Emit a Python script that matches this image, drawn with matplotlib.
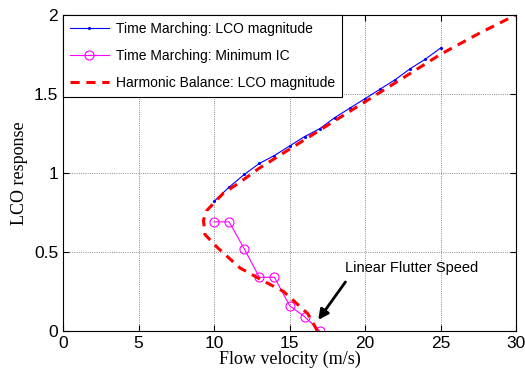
import numpy as np
import matplotlib
matplotlib.use("Agg")
import matplotlib.pyplot as plt

# Time marching: LCO magnitude
tm_v = [10, 11, 12, 13, 14, 15, 16, 17, 18, 19, 20, 21, 22, 23, 24, 25]
tm_lco = [0.82, 0.91, 0.99, 1.06, 1.11, 1.17, 1.23, 1.28, 1.35, 1.41, 1.47, 1.53, 1.59, 1.66, 1.72, 1.79]

# Time marching: minimum initial condition
ic_v = [10, 11, 12, 13, 14, 15, 16, 17]
ic_amp = [0.69, 0.69, 0.52, 0.34, 0.34, 0.16, 0.09, 0.0]

# Harmonic balance: LCO magnitude (unstable lower branch + stable upper branch)
hb_v = [16.85, 16.2, 15.4, 14.6, 13.2, 11.7, 10.2, 9.4, 9.3, 9.5, 9.9, 10.6, 11.7, 13.0, 15.0, 17.5, 20.0, 22.5, 25.0, 27.5, 30.0]
hb_lco = [0.0, 0.11, 0.18, 0.25, 0.32, 0.40, 0.53, 0.61, 0.70, 0.76, 0.80, 0.87, 0.94, 1.03, 1.15, 1.30, 1.45, 1.60, 1.75, 1.88, 2.0]

plt.rcParams['font.family'] = ['Liberation Sans', 'DejaVu Sans']

fig = plt.figure(figsize=(5.25, 3.8), dpi=100)
ax = fig.add_axes([0.12, 0.129, 0.863, 0.832])

ax.plot(tm_v, tm_lco, color='blue', lw=0.8, marker='.', ms=2.5,
        label='Time Marching: LCO magnitude')
ax.plot(ic_v, ic_amp, color='magenta', lw=0.8, marker='o', ms=6.5, mfc='none',
        mew=0.8, label='Time Marching: Minimum IC')
ax.plot(hb_v, hb_lco, color='red', lw=2.2, ls=(0, (3, 2.2)),
        label='Harmonic Balance: LCO magnitude')

# arrow and label for the linear flutter speed
ax.annotate('', xy=(16.9, 0.07), xytext=(18.7, 0.31),
            arrowprops=dict(arrowstyle='-|>', color='black', lw=2,
                            mutation_scale=15, shrinkA=0, shrinkB=0))
ax.text(18.7, 0.40, 'Linear Flutter Speed', fontsize=10.5, ha='left', va='center')

ax.set_xlim(0, 30)
ax.set_ylim(0, 2)
ax.set_xticks([0, 5, 10, 15, 20, 25, 30])
ax.set_yticks([0, 0.5, 1, 1.5, 2])
ax.set_yticklabels(['0', '0.5', '1', '1.5', '2'])
ax.tick_params(direction='in', top=True, right=True, labelsize=12.5, length=4)
ax.grid(True, color='black', ls=':', lw=0.6, alpha=0.6)
ax.set_xlabel('Flow velocity (m/s)', family='Liberation Serif', fontsize=13, labelpad=0)
ax.set_ylabel('LCO response', family='Liberation Serif', fontsize=13, labelpad=4)

leg = ax.legend(loc='upper left', fontsize=10, fancybox=False, framealpha=1,
                edgecolor='black', borderaxespad=0, handlelength=2.8,
                handletextpad=0.5, labelspacing=0.95, borderpad=0.5)
leg.get_frame().set_linewidth(0.8)

fig.savefig('out.png', dpi=100)
